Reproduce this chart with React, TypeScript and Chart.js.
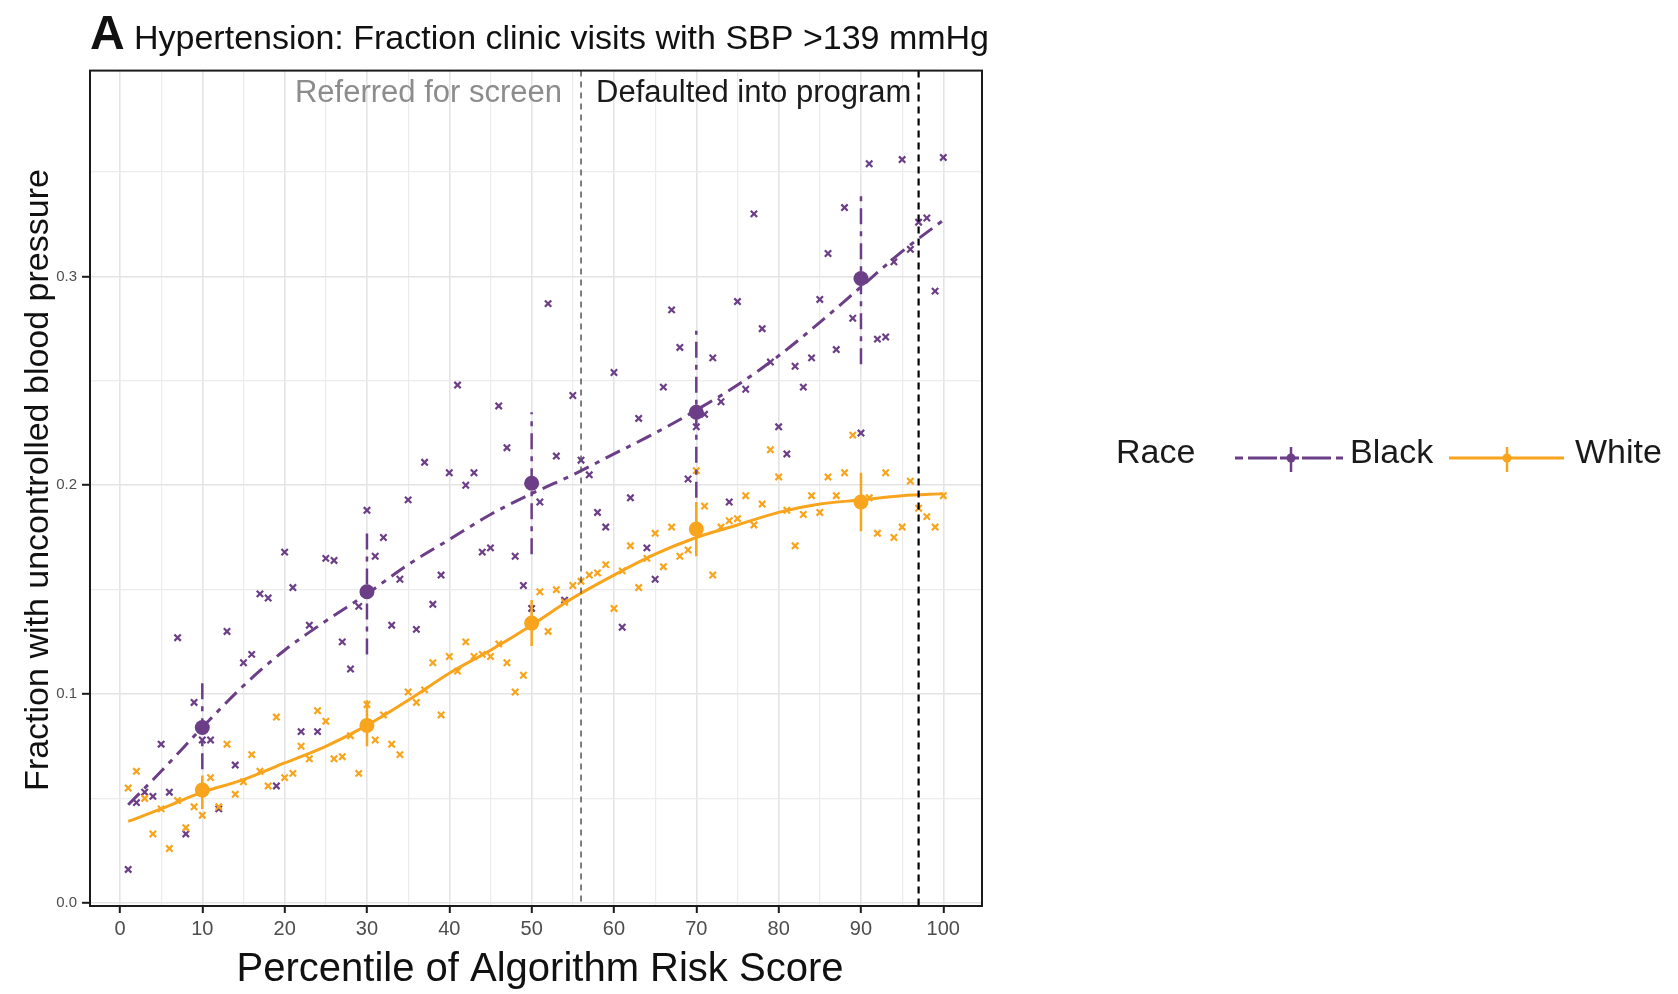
import React, { useEffect, useRef } from "react";
import { Chart, registerables } from "chart.js";

Chart.register(...registerables);

const PURPLE = "#6c3e88";
const ORANGE = "#f8a41c";
const FONT = '"Liberation Sans", Arial, Helvetica, sans-serif';

// Percentile of algorithm risk score (x categories)
const percentiles = [
  1, 2, 3, 4, 5, 6, 7, 8, 9, 10, 11, 12, 13, 14, 15, 16, 17, 18, 19, 20,
  21, 22, 23, 24, 25, 26, 27, 28, 29, 30, 31, 32, 33, 34, 35, 36, 37, 38, 39, 40,
  41, 42, 43, 44, 45, 46, 47, 48, 49, 50, 51, 52, 53, 54, 55, 56, 57, 58, 59, 60,
  61, 62, 63, 64, 65, 66, 67, 68, 69, 70, 71, 72, 73, 74, 75, 76, 77, 78, 79, 80,
  81, 82, 83, 84, 85, 86, 87, 88, 89, 90, 91, 92, 93, 94, 95, 96, 97, 98, 99, 100,
];

// Fraction with uncontrolled blood pressure, per percentile
const blackFraction = [
  0.016, 0.048, 0.053, 0.051, 0.076, 0.053, 0.127, 0.033, 0.096, 0.078,
  0.078, 0.045, 0.130, 0.066, 0.115, 0.119, 0.148, 0.146, 0.056, 0.168,
  0.151, 0.082, 0.133, 0.082, 0.165, 0.164, 0.125, 0.112, 0.142, 0.188,
  0.166, 0.175, 0.133, 0.155, 0.193, 0.131, 0.211, 0.143, 0.157, 0.206,
  0.248, 0.200, 0.206, 0.168, 0.170, 0.238, 0.218, 0.166, 0.152, 0.141,
  0.192, 0.287, 0.214, 0.145, 0.243, 0.212, 0.205, 0.187, 0.180, 0.254,
  0.132, 0.194, 0.232, 0.170, 0.155, 0.247, 0.284, 0.266, 0.203, 0.228,
  0.234, 0.261, 0.240, 0.192, 0.288, 0.246, 0.330, 0.275, 0.259, 0.228,
  0.215, 0.257, 0.247, 0.261, 0.289, 0.311, 0.265, 0.333, 0.280, 0.225,
  0.354, 0.270, 0.271, 0.307, 0.356, 0.313, 0.326, 0.328, 0.293, 0.357,
];

const whiteFraction = [
  0.055, 0.063, 0.050, 0.033, 0.045, 0.026, 0.049, 0.036, 0.046, 0.042,
  0.060, 0.046, 0.076, 0.052, 0.058, 0.071, 0.063, 0.056, 0.089, 0.060,
  0.062, 0.075, 0.069, 0.092, 0.087, 0.069, 0.070, 0.080, 0.062, 0.095,
  0.078, 0.090, 0.076, 0.071, 0.101, 0.096, 0.102, 0.115, 0.090, 0.118,
  0.111, 0.125, 0.118, 0.119, 0.118, 0.124, 0.115, 0.101, 0.109, 0.134,
  0.149, 0.130, 0.150, 0.144, 0.152, 0.154, 0.157, 0.158, 0.162, 0.141,
  0.159, 0.171, 0.151, 0.165, 0.177, 0.161, 0.180, 0.166, 0.169, 0.207,
  0.190, 0.157, 0.180, 0.183, 0.184, 0.195, 0.181, 0.191, 0.217, 0.204,
  0.188, 0.171, 0.186, 0.195, 0.187, 0.204, 0.195, 0.206, 0.224, 0.192,
  0.194, 0.177, 0.206, 0.175, 0.180, 0.202, 0.189, 0.185, 0.180, 0.195,
];

// Binned means with confidence intervals
const summaryX = [10, 30, 50, 70, 90];
const blackMean = [0.084, 0.149, 0.201, 0.235, 0.299];
const blackLow = [0.064, 0.119, 0.167, 0.194, 0.258];
const blackHigh = [0.106, 0.180, 0.235, 0.274, 0.340];
const whiteMean = [0.054, 0.085, 0.134, 0.179, 0.192];
const whiteLow = [0.045, 0.075, 0.123, 0.166, 0.178];
const whiteHigh = [0.061, 0.097, 0.145, 0.192, 0.206];

// Smoothed fits
const smoothX = [1, 5, 10, 15, 20, 25, 30, 35, 40, 45, 50, 55, 60, 65, 70, 75, 80, 85, 90, 95, 100];
const blackSmooth = [
  0.047, 0.063, 0.084, 0.104, 0.121, 0.135, 0.148, 0.162, 0.174, 0.186, 0.196,
  0.205, 0.215, 0.225, 0.236, 0.248, 0.262, 0.278, 0.295, 0.312, 0.327,
];
const whiteSmooth = [
  0.039, 0.045, 0.053, 0.059, 0.067, 0.075, 0.085, 0.097, 0.110, 0.121, 0.133,
  0.146, 0.157, 0.167, 0.175, 0.181, 0.187, 0.191, 0.193, 0.195, 0.196,
];

// Program thresholds
const referralCutoff = 56;
const defaultCutoff = 97;

// Axis breaks (major + minor)
const xBreaks = [0, 5, 10, 15, 20, 25, 30, 35, 40, 45, 50, 55, 60, 65, 70, 75, 80, 85, 90, 95, 100];
const yBreaks = [0, 0.05, 0.1, 0.15, 0.2, 0.25, 0.3, 0.35];

const TITLE = "Hypertension: Fraction clinic visits with SBP >139 mmHg";
const X_TITLE = "Percentile of Algorithm Risk Score";
const Y_TITLE = "Fraction with uncontrolled blood pressure";

const DOTDASH = [16, 7, 5, 7];

const isMajorX = (v: number) => Math.round(v) % 10 === 0;
const isMajorY = (v: number) => Math.round(v * 100) % 10 === 0;

export default function App() {
  const ref = useRef<HTMLCanvasElement>(null);

  useEffect(() => {
    const canvas = ref.current;
    if (!canvas) return;

    const pts = (xs: number[], ys: number[]) => xs.map((x, i) => ({ x, y: ys[i] }));
    const bars = (lo: number[], hi: number[]) =>
      summaryX.flatMap((x, i) => [
        { x, y: lo[i] },
        { x, y: hi[i] },
        { x, y: null as any },
      ]);

    const overlay = {
      id: "overlay",
      afterDatasetsDraw(chart: any) {
        const { ctx, chartArea: a, scales } = chart;
        const xs = scales.x;
        ctx.save();
        // threshold lines
        const x1 = xs.getPixelForValue(referralCutoff);
        ctx.strokeStyle = "#555555";
        ctx.lineWidth = 1.5;
        ctx.setLineDash([6, 5]);
        ctx.beginPath();
        ctx.moveTo(x1, a.top);
        ctx.lineTo(x1, a.bottom);
        ctx.stroke();
        const x2 = xs.getPixelForValue(defaultCutoff);
        ctx.strokeStyle = "#000000";
        ctx.lineWidth = 2.2;
        ctx.setLineDash([7, 5]);
        ctx.beginPath();
        ctx.moveTo(x2, a.top);
        ctx.lineTo(x2, a.bottom);
        ctx.stroke();
        ctx.setLineDash([]);
        // panel border
        ctx.strokeStyle = "#1a1a1a";
        ctx.lineWidth = 2;
        ctx.strokeRect(a.left, a.top, a.right - a.left, a.bottom - a.top);

        // annotations
        ctx.font = `31px ${FONT}`;
        ctx.textBaseline = "alphabetic";
        ctx.fillStyle = "#8c8c8c";
        ctx.textAlign = "right";
        ctx.fillText("Referred for screen", x1 - 19, 102);
        ctx.fillStyle = "#1a1a1a";
        ctx.textAlign = "left";
        ctx.fillText("Defaulted into program", x1 + 15, 102);
        ctx.restore();
      },
      afterDraw(chart: any) {
        const { ctx, chartArea: a } = chart;
        ctx.save();
        ctx.fillStyle = "#111111";
        ctx.textBaseline = "alphabetic";
        ctx.textAlign = "left";
        ctx.font = `bold 48px ${FONT}`;
        ctx.fillText("A", 90, 49);
        ctx.font = `34px ${FONT}`;
        ctx.fillText(TITLE, 134, 49);

        // x title
        ctx.textAlign = "center";
        ctx.font = `40px ${FONT}`;
        ctx.fillText(X_TITLE, (a.left + a.right) / 2 + 4, 981);

        // y title
        ctx.save();
        ctx.translate(48, 480);
        ctx.rotate(-Math.PI / 2);
        ctx.font = `34px ${FONT}`;
        ctx.fillText(Y_TITLE, 0, 0);
        ctx.restore();

        // legend
        ctx.textAlign = "left";
        ctx.font = `34px ${FONT}`;
        ctx.fillStyle = "#1a1a1a";
        ctx.fillText("Race", 1116, 463);
        ctx.fillText("Black", 1350, 463);
        ctx.fillText("White", 1575, 463);

        const ky = 458;
        // Black key
        ctx.strokeStyle = PURPLE;
        ctx.lineWidth = 3;
        const segs = [
          [1235, 1243],
          [1248, 1277],
          [1302, 1331],
          [1336, 1343],
        ];
        ctx.beginPath();
        segs.forEach(([s, e]) => {
          ctx.moveTo(s, ky);
          ctx.lineTo(e, ky);
        });
        ctx.moveTo(1280, ky);
        ctx.lineTo(1299, ky);
        ctx.stroke();
        ctx.lineWidth = 2.5;
        ctx.beginPath();
        ctx.moveTo(1291, 447);
        ctx.lineTo(1291, 472);
        ctx.stroke();
        ctx.fillStyle = PURPLE;
        ctx.beginPath();
        ctx.arc(1291, ky, 4.5, 0, Math.PI * 2);
        ctx.fill();

        // White key
        ctx.strokeStyle = ORANGE;
        ctx.lineWidth = 3;
        ctx.beginPath();
        ctx.moveTo(1449, ky);
        ctx.lineTo(1564, ky);
        ctx.stroke();
        ctx.lineWidth = 2.5;
        ctx.beginPath();
        ctx.moveTo(1507, 447);
        ctx.lineTo(1507, 472);
        ctx.stroke();
        ctx.fillStyle = ORANGE;
        ctx.beginPath();
        ctx.arc(1507, ky, 4.5, 0, Math.PI * 2);
        ctx.fill();
        ctx.restore();
      },
    };

    const chart = new Chart(canvas, {
      type: "scatter",
      data: {
        datasets: [
          {
            type: "scatter",
            label: "White mean",
            data: pts(summaryX, whiteMean),
            pointRadius: 7.5,
            pointStyle: "circle",
            backgroundColor: ORANGE,
            borderWidth: 0,
            order: 1,
          },
          {
            type: "scatter",
            label: "Black mean",
            data: pts(summaryX, blackMean),
            pointRadius: 7.5,
            pointStyle: "circle",
            backgroundColor: PURPLE,
            borderWidth: 0,
            order: 2,
          },
          {
            type: "line",
            label: "White CI",
            data: bars(whiteLow, whiteHigh),
            borderColor: ORANGE,
            borderWidth: 2.5,
            pointRadius: 0,
            spanGaps: false,
            order: 3,
          },
          {
            type: "line",
            label: "Black CI",
            data: bars(blackLow, blackHigh),
            borderColor: PURPLE,
            borderWidth: 2.5,
            borderDash: DOTDASH,
            pointRadius: 0,
            spanGaps: false,
            order: 4,
          },
          {
            type: "line",
            label: "White fit",
            data: pts(smoothX, whiteSmooth),
            borderColor: ORANGE,
            borderWidth: 3,
            pointRadius: 0,
            cubicInterpolationMode: "monotone",
            order: 5,
          },
          {
            type: "line",
            label: "Black fit",
            data: pts(smoothX, blackSmooth),
            borderColor: PURPLE,
            borderWidth: 3,
            borderDash: DOTDASH,
            pointRadius: 0,
            cubicInterpolationMode: "monotone",
            order: 6,
          },
          {
            type: "scatter",
            label: "White",
            data: pts(percentiles, whiteFraction),
            pointStyle: "crossRot",
            pointRadius: 4.5,
            borderColor: ORANGE,
            borderWidth: 2.2,
            order: 7,
          },
          {
            type: "scatter",
            label: "Black",
            data: pts(percentiles, blackFraction),
            pointStyle: "crossRot",
            pointRadius: 4.5,
            borderColor: PURPLE,
            borderWidth: 2.2,
            order: 8,
          },
        ] as any,
      },
      options: {
        responsive: false,
        animation: false,
        devicePixelRatio: 1,
        layout: { padding: { top: 70.6, right: 696, left: 0, bottom: 0 } },
        plugins: {
          legend: { display: false },
          tooltip: { enabled: false },
          title: { display: false },
        },
        scales: {
          x: {
            type: "linear",
            min: -3.64,
            max: 104.7,
            afterBuildTicks: (scale: any) => {
              scale.ticks = xBreaks.map((v) => ({ value: v }));
            },
            afterFit: (scale: any) => {
              scale.height = 88;
            },
            border: { display: false },
            grid: {
              color: (c: any) => (c.tick && isMajorX(c.tick.value) ? "#e4e4e4" : "#ececec"),
              lineWidth: (c: any) => (c.tick && isMajorX(c.tick.value) ? 1.6 : 1.2),
              tickColor: (c: any) => (c.tick && isMajorX(c.tick.value) ? "#1a1a1a" : "rgba(0,0,0,0)"),
              tickLength: 7,
              tickWidth: 2,
              drawTicks: true,
            },
            ticks: {
              autoSkip: false,
              maxRotation: 0,
              padding: 4,
              color: "#4d4d4d",
              font: { family: FONT, size: 20 },
              callback: (v: any) => (isMajorX(Number(v)) ? String(v) : ""),
            },
          },
          y: {
            type: "linear",
            min: -0.0015,
            max: 0.3986,
            afterBuildTicks: (scale: any) => {
              scale.ticks = yBreaks.map((v) => ({ value: v }));
            },
            afterFit: (scale: any) => {
              scale.width = 90;
            },
            border: { display: false },
            grid: {
              color: (c: any) => (c.tick && isMajorY(c.tick.value) ? "#e4e4e4" : "#ececec"),
              lineWidth: (c: any) => (c.tick && isMajorY(c.tick.value) ? 1.6 : 1.2),
              tickColor: (c: any) => (c.tick && isMajorY(c.tick.value) ? "#1a1a1a" : "rgba(0,0,0,0)"),
              tickLength: 8,
              tickWidth: 2,
              drawTicks: true,
            },
            ticks: {
              autoSkip: false,
              padding: 5,
              color: "#4d4d4d",
              font: { family: FONT, size: 15 },
              callback: (v: any) => (isMajorY(Number(v)) ? Number(v).toFixed(1) : ""),
            },
          },
        },
      } as any,
      plugins: [overlay],
    });

    return () => chart.destroy();
  }, []);

  return (
    <div
      style={{
        position: "fixed",
        left: 0,
        top: 0,
        width: 1678,
        height: 994,
        background: "#ffffff",
      }}
    >
      <canvas ref={ref} width={1678} height={994} style={{ display: "block" }} />
    </div>
  );
}
